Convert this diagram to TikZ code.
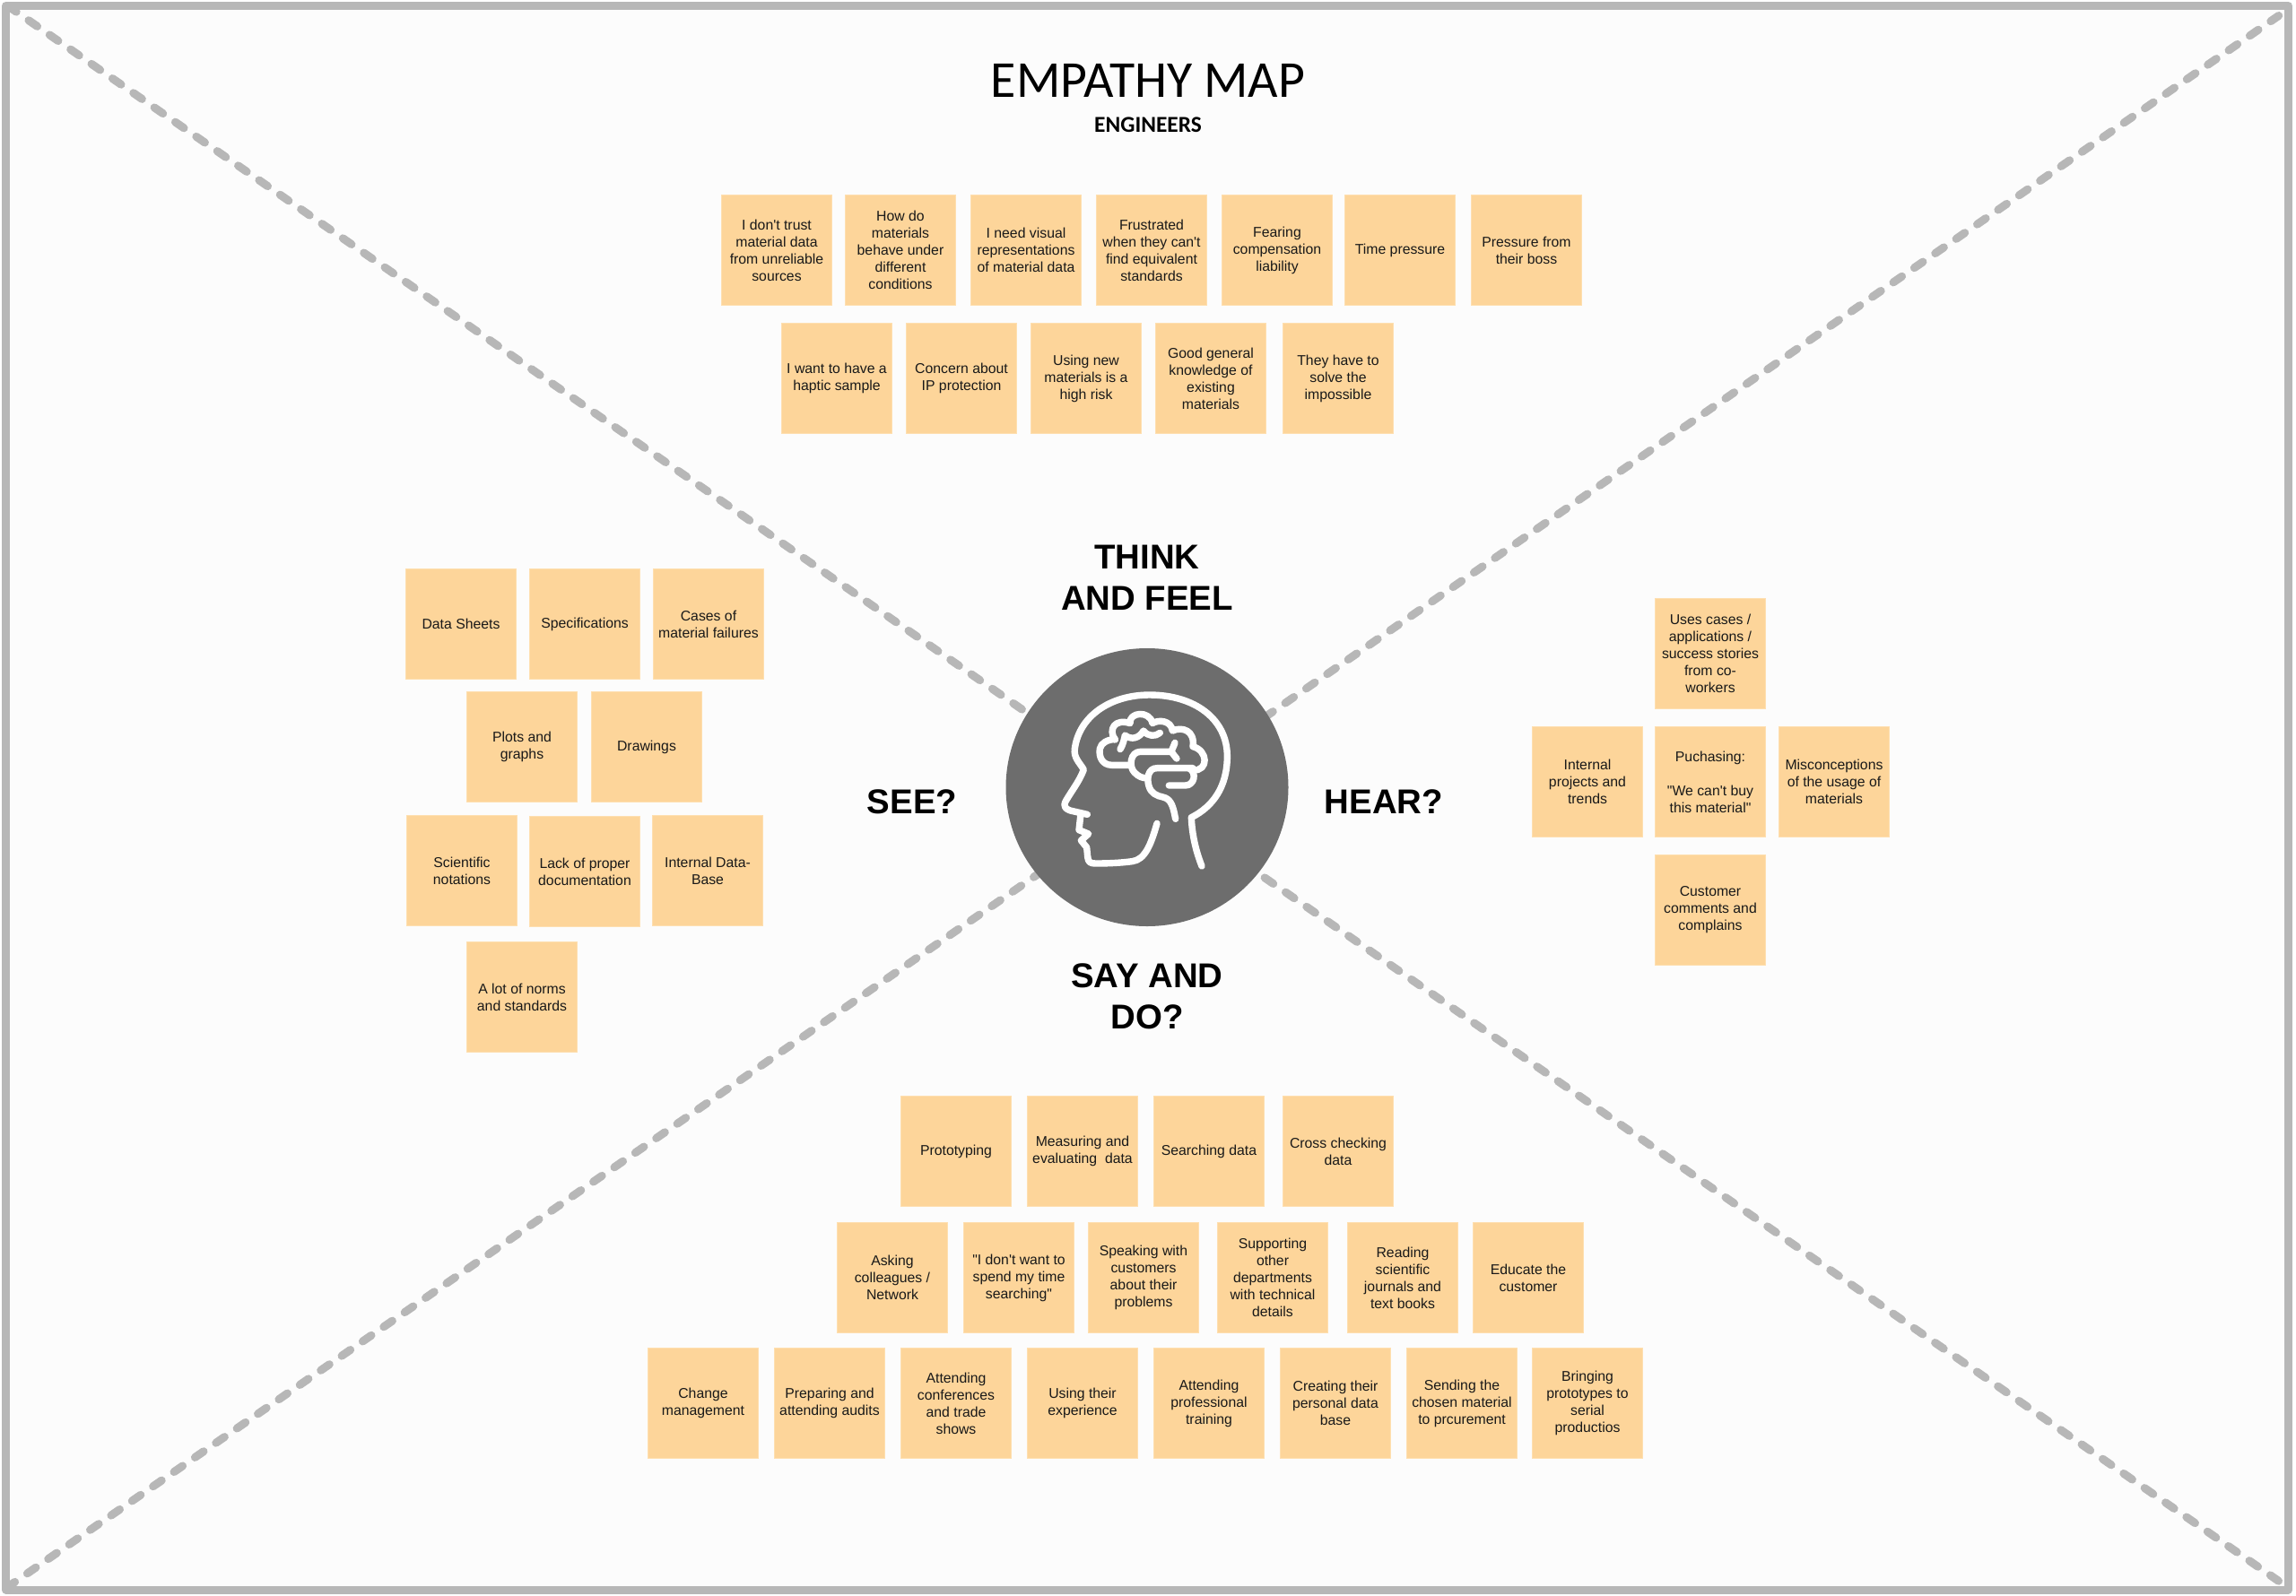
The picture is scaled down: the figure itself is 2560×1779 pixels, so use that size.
\documentclass[tikz,border=0pt]{standalone}
\usepackage{fontspec}
\usetikzlibrary{shapes.geometric}
\newfontfamily\arialf{Liberation Sans}
\newfontfamily\calf{Carlito}
\definecolor{paper}{HTML}{FCFCFC}
\definecolor{framegray}{HTML}{B7B7B7}
\definecolor{stickyfill}{HTML}{FDD59A}
\definecolor{stickyedge}{HTML}{FEDFB0}
\definecolor{hubgray}{HTML}{6D6D6D}
\tikzset{
  sticky/.style={anchor=north west,rectangle,fill=stickyfill,draw=stickyedge,line width=0.5pt,
    minimum width=61.5pt,minimum height=61.5pt,inner sep=0pt,align=center,text=black!90,
    font=\arialf\fontsize{7.9}{9.5}\selectfont},
  heading/.style={align=center,text=black,inner sep=0pt,font=\arialf\bfseries\fontsize{19.2}{23}\selectfont},
  diag/.style={draw=framegray,line width=4.5pt,line cap=round,dash pattern=on 5.85pt off 8.365pt},
  headline/.style={draw=white,line width=3.7pt,line cap=round,line join=round}
}
\begin{document}
\begin{tikzpicture}[x=0.5pt,y=-0.5pt]
\useasboundingbox (0,0) rectangle (2560,1779);
\fill[white] (0,0) rectangle (2560,1779);
\fill[paper] (6.5,6.5) rectangle (2551.5,1773);
% diagonals
\coordinate (tl) at (8.6,6.5);
\coordinate (br) at (2540.5,1763.2);
\coordinate (bl) at (7,1771);
\coordinate (tr) at (2540.7,17.5);
\draw[diag] (tl) -- (br);
\draw[diag] (bl) -- (tr);
\draw[draw=framegray,line width=4.5pt,line join=round] (6.5,6.5) rectangle (2551.5,1773);
% title
\node[inner sep=0pt,font=\calf\fontsize{28.9}{32}\selectfont] (title) at (1280,90) {EMPATHY MAP};
\node[inner sep=0pt,font=\calf\bfseries\fontsize{12.7}{15}\selectfont] (sub) at (1280,139) {ENGINEERS};
% think and feel
\node[sticky] (t1) at (804,217) {I don't trust\\material data\\from unreliable\\sources};
\node[sticky] (t2) at (942,217) {How do\\materials\\behave under\\different\\conditions};
\node[sticky] (t3) at (1082,217) {I need visual\\representations\\of material data};
\node[sticky] (t4) at (1222,217) {Frustrated\\when they can't\\find equivalent\\standards};
\node[sticky] (t5) at (1362,217) {Fearing\\compensation\\liability};
\node[sticky] (t6) at (1499,217) {Time pressure};
\node[sticky] (t7) at (1640,217) {Pressure from\\their boss};
\node[sticky] (t8) at (871,360) {I want to have a\\haptic sample};
\node[sticky] (t9) at (1010,360) {Concern about\\IP protection};
\node[sticky] (t10) at (1149,360) {Using new\\materials is a\\high risk};
\node[sticky] (t11) at (1288,360) {Good general\\knowledge of\\existing\\materials};
\node[sticky] (t12) at (1430,360) {They have to\\solve the\\impossible};
% see
\node[sticky] (s1) at (452,634) {Data Sheets};
\node[sticky] (s2) at (590,634) {Specifications};
\node[sticky] (s3) at (728,634) {Cases of\\material failures};
\node[sticky] (s4) at (520,771) {Plots and\\graphs};
\node[sticky] (s5) at (659,771) {Drawings};
\node[sticky] (s6) at (453,909) {Scientific\\notations};
\node[sticky] (s7) at (590,910) {Lack of proper\\documentation};
\node[sticky] (s8) at (727,909) {Internal Data-\\Base};
\node[sticky] (s9) at (520,1050) {A lot of norms\\and standards};
% hear
\node[sticky] (h1) at (1845,667) {Uses cases /\\applications /\\success stories\\from co-\\workers};
\node[sticky] (h2) at (1708,810) {Internal\\projects and\\trends};
\node[sticky] (h3) at (1845,810) {Puchasing:\\[9.5pt]"We can't buy\\this material"};
\node[sticky] (h4) at (1983,810) {Misconceptions\\of the usage of\\materials};
\node[sticky] (h5) at (1845,953) {Customer\\comments and\\complains};
% say and do
\node[sticky] (d1) at (1004,1222) {Prototyping};
\node[sticky] (d2) at (1145,1222) {Measuring and\\evaluating~ data};
\node[sticky] (d3) at (1286,1222) {Searching data};
\node[sticky] (d4) at (1430,1222) {Cross checking\\data};
\node[sticky] (d5) at (933,1363) {Asking\\colleagues /\\Network};
\node[sticky] (d6) at (1074,1363) {"I don't want to\\spend my time\\searching"};
\node[sticky] (d7) at (1213,1363) {Speaking with\\customers\\about their\\problems};
\node[sticky] (d8) at (1357,1363) {Supporting\\other\\departments\\with technical\\details};
\node[sticky] (d9) at (1502,1363) {Reading\\scientific\\journals and\\text books};
\node[sticky] (d10) at (1642,1363) {Educate the\\customer};
\node[sticky] (d11) at (722,1503) {Change\\management};
\node[sticky] (d12) at (863,1503) {Preparing and\\attending audits};
\node[sticky] (d13) at (1004,1503) {Attending\\conferences\\and trade\\shows};
\node[sticky] (d14) at (1145,1503) {Using their\\experience};
\node[sticky] (d15) at (1286,1503) {Attending\\professional\\training};
\node[sticky] (d16) at (1427,1503) {Creating their\\personal data\\base};
\node[sticky] (d17) at (1568,1503) {Sending the\\chosen material\\to prcurement};
\node[sticky] (d18) at (1708,1503) {Bringing\\prototypes to\\serial\\productios};
% headings
\node[heading] (think) at (1279,644.5) {THINK\\AND FEEL};
\node[heading] (see) at (1017,894) {SEE?};
\node[heading] (hear) at (1543,894) {HEAR?};
\node[heading] (say) at (1279,1111.5) {SAY AND\\DO?};
% hub
\node[ellipse,fill=hubgray,minimum width=157.5pt,minimum height=155pt,inner sep=0pt] (hub) at (1279,878) {};
% head icon, traced
\begin{scope}[shift={(1175,765)},x=0.16667pt,y=-0.16667pt]
\draw[headline] (495,603) .. controls (472,545) and (462,490) .. (460,440)
  .. controls (530,405) and (580,340) .. (580,235)
  .. controls (580,110) and (470,30) .. (320,30)
  .. controls (190,30) and (85,100) .. (70,210)
  .. controls (66,240) and (85,255) .. (100,280)
  .. controls (85,320) and (60,350) .. (40,385)
  .. controls (30,403) and (40,412) .. (55,417) -- (112,430);
\draw[headline] (90,428) -- (84,482) -- (116,495) -- (91,517) -- (110,540) -- (113,572);
\draw[headline] (113,572) .. controls (115,590) and (122,594) .. (140,594) .. controls (180,594) and (225,592) .. (262,587) .. controls (305,582) and (325,530) .. (345,460);
% brain outline
\draw[headline] (255,265) -- (195,265) .. controls (160,265) and (150,235) .. (154,210) .. controls (158,190) and (180,180) .. (205,178);
\draw[headline] (205,180) .. controls (180,145) and (205,108) .. (255,125) .. controls (250,88) and (320,80) .. (330,125) .. controls (350,112) and (392,115) .. (397,150) .. controls (430,135) and (473,150) .. (465,203) .. controls (515,215) and (520,285) .. (465,282);
\draw[headline] (465,275) -- (345,275) .. controls (315,275) and (310,310) .. (318,335) .. controls (325,360) and (345,368) .. (365,372) .. controls (395,378) and (400,410) .. (407,445);
\draw[headline] (452,275) .. controls (480,290) and (470,333) .. (440,333) -- (385,333);
% middle fold
\draw[headline] (390,220) -- (290,220) .. controls (255,220) and (250,270) .. (270,290) .. controls (285,305) and (298,309) .. (314,308);
\draw[headline] (405,190) .. controls (400,205) and (395,212) .. (393,220) .. controls (398,227) and (405,236) .. (411,243);
% upper fold
\draw[headline] (222,212) .. controls (232,195) and (235,180) .. (238,165) .. controls (260,182) and (285,175) .. (300,150) .. controls (315,170) and (340,170) .. (355,157);
\end{scope}
\end{tikzpicture}
\end{document}
